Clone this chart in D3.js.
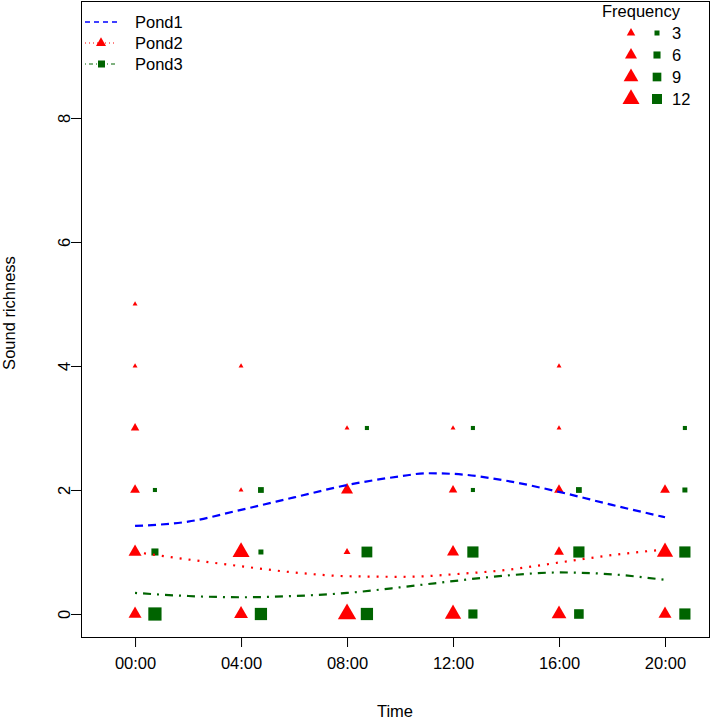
<!DOCTYPE html>
<html><head><meta charset="utf-8">
<script src="https://cdn.jsdelivr.net/npm/d3@7"></script>
<style>body{margin:0;background:#fff}svg{display:block;font-family:"Liberation Sans",Arial,sans-serif}</style>
</head><body>
<svg id="c" width="719" height="719"></svg>
<script>
// ---- data ----
const hours = [0, 4, 8, 12, 16, 20];
const hourLabels = ["00:00", "04:00", "08:00", "12:00", "16:00", "20:00"];
const richness = [0, 1, 2, 3, 4, 5];
// frequency of each richness value (index = richness) per time slot
const pond2Freq = [
  [7, 7, 4, 3, 1, 1],
  [8, 12, 1, 0, 1, 0],
  [14, 2, 6, 1, 0, 0],
  [11, 6, 3, 1, 0, 0],
  [9, 4, 4, 1, 1, 0],
  [7, 11, 4, 0, 0, 0]
];
const pond3Freq = [
  [21, 6, 2, 0, 0, 0],
  [18, 3, 4, 0, 0, 0],
  [18, 14, 0, 2, 0, 0],
  [10, 15, 2, 2, 0, 0],
  [11, 15, 4, 0, 0, 0],
  [15, 15, 3, 2, 0, 0]
];
const pond3Offset = 0.75;
// smoothed trend lines
const trendHours = [0, 2, 4, 6, 8, 10, 11, 12, 14, 16, 18, 20];
const pond1Trend = [1.42, 1.49, 1.68, 1.88, 2.08, 2.22, 2.27, 2.26, 2.15, 1.97, 1.76, 1.56];
const pond2Trend = [1.0, 0.88, 0.77, 0.67, 0.61, 0.60, 0.61, 0.64, 0.71, 0.83, 0.95, 1.04];
const pond3Trend = [0.34, 0.29, 0.27, 0.29, 0.34, 0.43, 0.48, 0.53, 0.62, 0.67, 0.64, 0.55];
const yTicks = [0, 2, 4, 6, 8];
const legendFreq = [3, 6, 9, 12];
const pondNames = ["Pond1", "Pond2", "Pond3"];

// ---- chart ----
const svg = d3.select("#c");
const FS = 16.5;
const L = 81, R = 709, T = 1, B = 637;
const x = d3.scaleLinear().domain([-2.04, 21.66]).range([L, R]);
const y = d3.scaleLinear().domain([-0.371, 9.887]).range([B, T]);
const RED = "#ff0000", GREEN = "#006400", BLUE = "#0000ff";
const triW = d3.scaleSqrt().domain([0, 12]).range([0, 17]);
const sqW = d3.scaleSqrt().domain([0, 12]).range([0, 10]);

function triPath(w) {
  const h = w * Math.sqrt(3) / 2;
  return `M0,${-2 * h / 3}L${w / 2},${h / 3}L${-w / 2},${h / 3}Z`;
}

// box
svg.append("rect").attr("x", L).attr("y", T).attr("width", R - L).attr("height", B - T)
  .attr("fill", "none").attr("stroke", "#000").attr("stroke-width", 1).attr("shape-rendering", "crispEdges");

// axes
const xAxis = d3.axisBottom(x).tickValues(hours).tickFormat((d, i) => hourLabels[i]).tickSize(10).tickPadding(10);
const gx = svg.append("g").attr("transform", `translate(0,${B})`).call(xAxis);
gx.select(".domain").remove();
gx.selectAll("text").attr("font-size", FS).attr("font-family", "Liberation Sans, Arial, sans-serif").attr("fill", "#000");
gx.selectAll("line").attr("stroke", "#000");

const yAxis = d3.axisLeft(y).tickValues(yTicks).tickSize(10).tickFormat(d3.format("d"));
const gy = svg.append("g").attr("transform", `translate(${L},0)`).call(yAxis);
gy.select(".domain").remove();
gy.selectAll("line").attr("stroke", "#000");
gy.selectAll("text").attr("font-size", FS).attr("font-family", "Liberation Sans, Arial, sans-serif").attr("fill", "#000")
  .attr("x", null).attr("dy", null).attr("text-anchor", "middle")
  .attr("transform", "translate(-11,0) rotate(-90)");

svg.append("text").attr("x", (L + R) / 2).attr("y", 717).attr("text-anchor", "middle")
  .attr("font-size", FS).text("Time");
svg.append("text").attr("transform", `translate(15,${(T + B) / 2 - 6}) rotate(-90)`).attr("text-anchor", "middle")
  .attr("font-size", FS).text("Sound richness");

// points
const pts2 = [], pts3 = [];
hours.forEach((h, i) => richness.forEach(r => {
  if (pond2Freq[i][r] > 0) pts2.push({ h, r, f: pond2Freq[i][r] });
  if (pond3Freq[i][r] > 0) pts3.push({ h: h + pond3Offset, r, f: pond3Freq[i][r] });
}));
svg.append("g").selectAll("path").data(pts2).join("path")
  .attr("transform", d => `translate(${x(d.h)},${y(d.r)})`)
  .attr("d", d => triPath(triW(d.f))).attr("fill", RED);
svg.append("g").selectAll("rect").data(pts3).join("rect")
  .attr("x", d => x(d.h) - sqW(d.f) / 2).attr("y", d => y(d.r) - sqW(d.f) / 2)
  .attr("width", d => sqW(d.f)).attr("height", d => sqW(d.f)).attr("fill", GREEN);

// trend lines
const line = d3.line().x(d => x(d[0])).y(d => y(d[1])).curve(d3.curveMonotoneX);
const trends = [
  { v: pond1Trend, c: BLUE, dash: "8,5" },
  { v: pond2Trend, c: RED, dash: "2,7" },
  { v: pond3Trend, c: GREEN, dash: "2,6,8,6" }
];
trends.forEach(t => {
  svg.append("path").datum(trendHours.map((h, i) => [h, t.v[i]]))
    .attr("d", line).attr("fill", "none").attr("stroke", t.c)
    .attr("stroke-width", 2.2).attr("stroke-dasharray", t.dash);
});

// left legend
const lg = svg.append("g");
pondNames.forEach((n, i) => {
  const yy = 22 + i * 21;
  const t = trends[i];
  lg.append("line").attr("x1", 85).attr("x2", 117).attr("y1", yy).attr("y2", yy)
    .attr("stroke", t.c).attr("stroke-width", i === 0 ? 1.3 : 1).attr("stroke-dasharray", i === 0 ? "5,4" : (i === 1 ? "1,3" : "1,3,4,3"));
  if (i === 1) lg.append("path").attr("transform", `translate(101,${yy})`).attr("d", triPath(10)).attr("fill", RED);
  if (i === 2) lg.append("rect").attr("x", 98).attr("y", yy - 3.5).attr("width", 7).attr("height", 7).attr("fill", GREEN);
  lg.append("text").attr("x", 135).attr("y", yy + 6).attr("font-size", FS).text(n);
});

// frequency legend
const fg = svg.append("g");
fg.append("text").attr("x", 641).attr("y", 17).attr("text-anchor", "middle").attr("font-size", FS).text("Frequency");
legendFreq.forEach((f, i) => {
  const yy = 33 + i * 22;
  fg.append("path").attr("transform", `translate(631,${yy})`).attr("d", triPath(triW(f))).attr("fill", RED);
  const s = sqW(f);
  fg.append("rect").attr("x", 657 - s / 2).attr("y", yy - s / 2).attr("width", s).attr("height", s).attr("fill", GREEN);
  fg.append("text").attr("x", 672).attr("y", yy + 6).attr("font-size", FS).text(f);
});
</script>
</body></html>
